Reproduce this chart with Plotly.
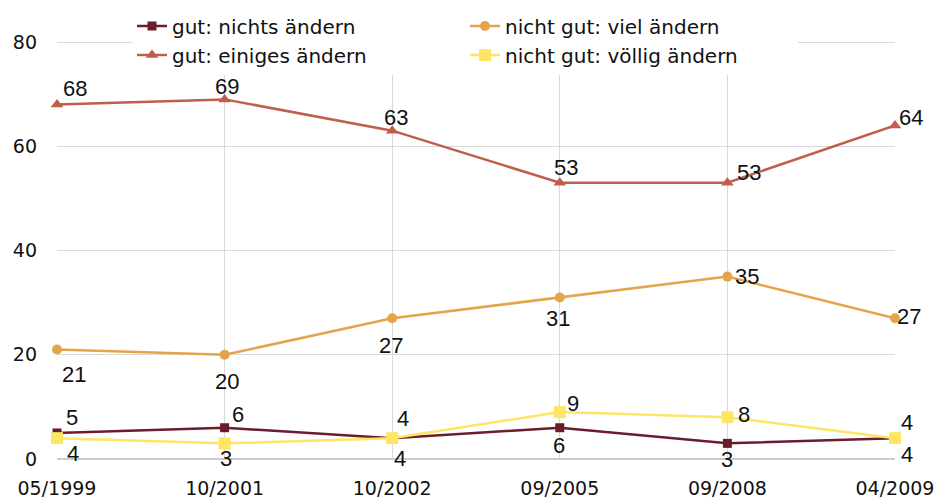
import plotly.graph_objects as go

categories = ["05/1999", "10/2001", "10/2002", "09/2005", "09/2008", "04/2009"]
gut_nichts = [5, 6, 4, 6, 3, 4]
nicht_viel = [21, 20, 27, 31, 35, 27]
gut_einiges = [68, 69, 63, 53, 53, 64]
nicht_voellig = [4, 3, 4, 9, 8, 4]
y_ticks = [0, 20, 40, 60, 80]

# label offsets in pixels (dx right, dy down) relative to each point
off_nichts = [(15, -15), (13, -13), (11, -20), (-1, 18), (0, 16), (12, 16)]
off_viel = [(17, 25), (2, 27), (-1, 27), (-2, 21), (20, 0), (14, -2)]
off_einiges = [(18, -16), (2, -13), (4, -13), (6, -15), (22, -10), (16, -8)]
off_voellig = [(16, 15), (1, 15), (8, 20), (13, -9), (17, -3), (12, -16)]

xs = list(range(len(categories)))
label_font = dict(family="Liberation Sans, Arial, sans-serif", size=22, color="#111111")
axis_font = dict(family="DejaVu Sans, sans-serif", size=19, color="#111111")

fig = go.Figure()
annotations = []

def add(name, vals, color, symbol, size, offs):
    fig.add_trace(go.Scatter(
        x=xs, y=vals, name=name, mode="lines+markers",
        line=dict(color=color, width=2.5),
        marker=dict(color=color, symbol=symbol, size=size),
        cliponaxis=False, hoverinfo="skip",
    ))
    for xi, v, (dx, dy) in zip(xs, vals, offs):
        annotations.append(dict(
            x=xi, y=v, xref="x", yref="y", text=str(v), showarrow=False,
            xanchor="center", yanchor="middle", xshift=dx, yshift=-dy,
            font=label_font,
        ))

add("gut: nichts ändern", gut_nichts, "#6B1D2C", "square", 9, off_nichts)
add("nicht gut: viel ändern", nicht_viel, "#E5A44A", "circle", 10, off_viel)
add("gut: einiges ändern", gut_einiges, "#BF5E4B", "triangle-up", 11, off_einiges)
add("nicht gut: völlig ändern", nicht_voellig, "#FDE565", "square", 12, off_voellig)

fig.update_layout(
    width=937, height=498,
    margin=dict(l=57, r=42, t=16, b=39, autoexpand=False),
    paper_bgcolor="white", plot_bgcolor="white",
    showlegend=True,
    annotations=annotations,
    legend=dict(
        orientation="h", x=0.0895, y=1.0214, xanchor="left", yanchor="top",
        entrywidth=288, entrywidthmode="pixels",
        bgcolor="white", font=dict(family="DejaVu Sans, sans-serif", size=20, color="#111111"),
        itemwidth=30, tracegroupgap=0,
    ),
    xaxis=dict(
        tickmode="array", tickvals=xs, ticktext=categories,
        range=[0, 5], showgrid=True, gridcolor="#d9d9d9", gridwidth=1,
        zeroline=False, showline=False, ticks="", automargin=False,
        tickfont=axis_font, ticklabelstandoff=16,
    ),
    yaxis=dict(
        range=[0, 85], tickvals=y_ticks, showgrid=True, gridcolor="#d9d9d9",
        zeroline=True, zerolinecolor="#cccccc", showline=False, ticks="",
        automargin=False, tickfont=axis_font, ticklabelstandoff=19,
    ),
)

fig.write_html("out.html", config={"displayModeBar": False},
               post_script="document.body.style.margin='0px';")
